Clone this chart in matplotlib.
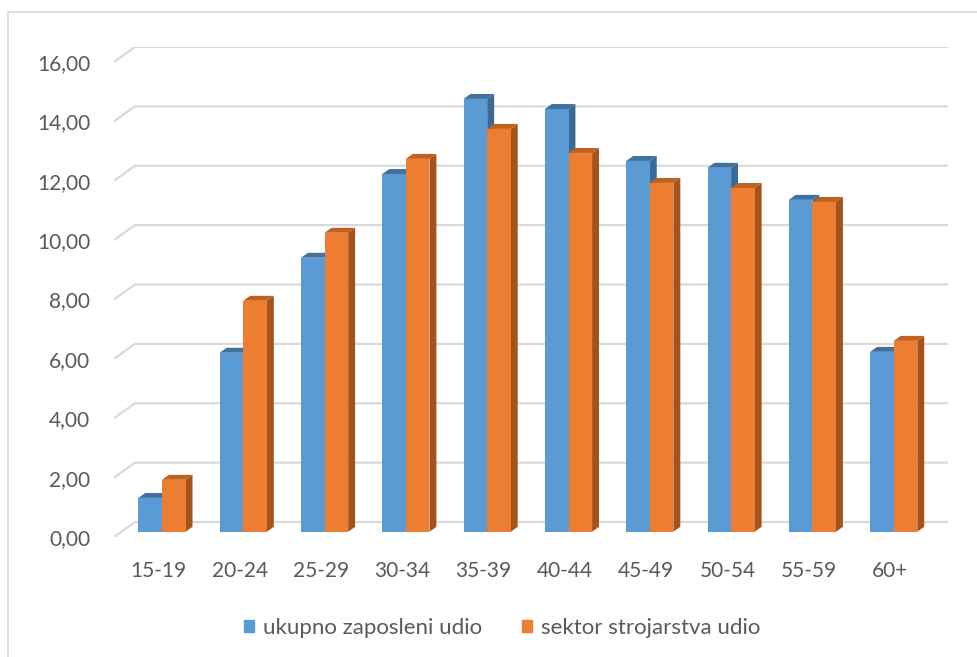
import numpy as np
import matplotlib.pyplot as plt
from matplotlib.patches import Polygon, Patch, Rectangle

# data
age_groups = ["15-19", "20-24", "25-29", "30-34", "35-39", "40-44", "45-49", "50-54", "55-59", "60+"]
ukupno = [1.14, 6.03, 9.23, 12.05, 14.58, 14.24, 12.49, 12.26, 11.18, 6.06]
strojarstvo = [1.75, 7.78, 10.07, 12.56, 13.57, 12.76, 11.75, 11.58, 11.11, 6.43]
y_ticks = [0, 2, 4, 6, 8, 10, 12, 14, 16]

blue = ("#5B9BD5", "#41719C", "#3A6A98")   # front, top, side
orange = ("#ED7D31", "#C1611F", "#A4531C")
text_col = "#595959"
grid_col = "#D9D9D9"

plt.rcParams["font.family"] = ["Lato", "DejaVu Sans"]
plt.rcParams["font.size"] = 15

W, H = 978, 657
fig = plt.figure(figsize=(W / 100, H / 100), dpi=100)

# fake 3d: wall depth in data units
n = len(age_groups)
DX, DY = 0.258, 0.505
ax = fig.add_axes([114 / W, (H - 537) / H, (948 - 114) / W, (537 - 47) / H])
ax.set_xlim(-0.5, n - 0.5 + DX)
ax.set_ylim(0, y_ticks[-1] + DY)

# back wall gridlines with the slanted floor/side part
for t in y_ticks:
    ax.plot([-0.5, -0.5 + DX, n - 0.5 + DX], [t, t + DY, t + DY],
            color=grid_col, lw=1.6, zorder=1, solid_capstyle="butt")

# bars sit a third of the way into the depth
bx, by = DX * 0.35, DY * 0.35
ddx, ddy = DX * 0.33, DY * 0.33
w = 0.29


def bar3d(x, v, cols, z):
    front, top, side = cols
    l, r = x - w / 2, x + w / 2
    ax.add_patch(Polygon([(r, by), (r + ddx, by + ddy), (r + ddx, by + v + ddy), (r, by + v)],
                         closed=True, fc=side, ec="none", zorder=z))
    ax.add_patch(Polygon([(l, by + v), (l + ddx, by + v + ddy), (r + ddx, by + v + ddy), (r, by + v)],
                         closed=True, fc=top, ec="none", zorder=z))
    ax.bar(x, v, width=w, bottom=by, color=front, zorder=z + 0.5)


x = np.arange(n)
for i in range(n):
    bar3d(x[i] - w / 2 + bx, ukupno[i], blue, 2 + i * 2)
    bar3d(x[i] + w / 2 + bx, strojarstvo[i], orange, 3 + i * 2)

ax.set_yticks(y_ticks)
ax.set_yticklabels([f"{t:.2f}".replace(".", ",") for t in y_ticks], color=text_col)
ax.set_xticks(x + bx / 2)
ax.set_xticklabels(age_groups, color=text_col)
ax.tick_params(axis="y", length=0, pad=17)
ax.tick_params(axis="x", length=0, pad=17)
for s in ax.spines.values():
    s.set_visible(False)
ax.patch.set_visible(False)

fig.legend(handles=[Patch(color=blue[0], label="ukupno zaposleni udio"),
                    Patch(color=orange[0], label="sektor strojarstva udio")],
           loc="center", bbox_to_anchor=(502 / W, (H - 628) / H), ncol=2, frameon=False,
           fontsize=16, handlelength=0.45, handleheight=0.45, handletextpad=0.4,
           columnspacing=1.8, labelcolor=text_col)

# chart area border
fig.add_artist(Rectangle((8 / W, -0.1), 1.2, 1.1 - 12 / H, transform=fig.transFigure,
                         fill=False, ec=grid_col, lw=1.2))

fig.savefig("out.png", dpi=100)
